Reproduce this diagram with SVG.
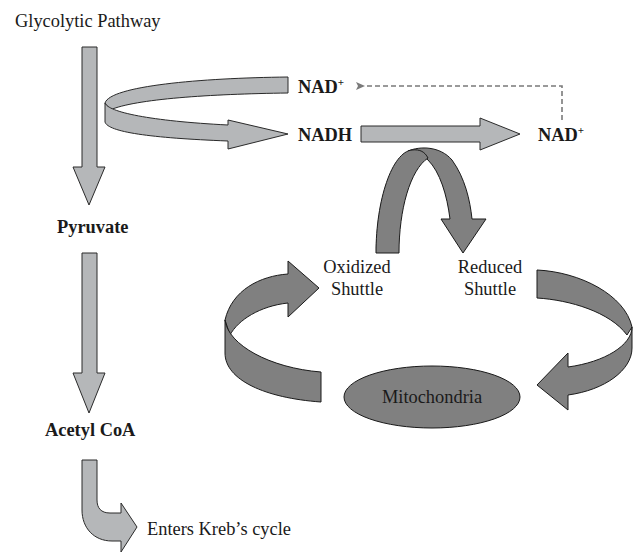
<svg xmlns="http://www.w3.org/2000/svg" width="633" height="553" viewBox="0 0 633 553">
<style>
text{font-family:"Liberation Serif","Times New Roman",serif;font-size:18.4px;fill:#1a1a1a}
.b{font-weight:bold}
.light{fill:#b5b7b9;stroke:#2a2a2a;stroke-width:1;stroke-linejoin:miter}
.dark{fill:#808080;stroke:#1a1a1a;stroke-width:1}
.dash{fill:none;stroke:#7a7a7a;stroke-width:1.6;stroke-dasharray:5,3}
</style>
<defs>
<marker id="ah" markerWidth="10" markerHeight="10" refX="1" refY="5" orient="auto" markerUnits="userSpaceOnUse">
<path d="M1,5 L10,1 L8,5 L10,9 Z" fill="#7a7a7a"/>
</marker>
</defs>
<rect width="633" height="553" fill="#fff"/>
<g id="connectors">
<path class="light" d="M82,47 H97 V167 H105 L89,205 L73,167 H82 Z"/>
<path class="light" d="M82,253 H97 V373 H105 L89,413 L73,373 H82 Z"/>
<path class="light" d="M82,460 H97 V500 C97,508 101,513 110,513 H121 V503 L137,527 L121,552 V541 H112 C94,541 82,528 82,510 Z"/>
<path class="light" d="M288,77 V93 C210,94 135,99 110,110 L105,103 C110,86 200,78 288,77 Z"/>
<path class="light" d="M105,103 C108,112 150,121 228,125 V120 L288,134 L228,149 V141 C150,138 108,132 105,122 Z"/>
<path class="light" d="M361,126 H480 V118 L520,134 L480,150 V142 H361 Z"/>
<path class="dash" d="M562,120 V86 H365" marker-end="url(#ah)"/>
<path class="dark" d="M408,151 C420,146 440,146 452,160 C465,178 470,200 472,219 H486 L463,253 L441,219 H450 C447,195 440,172 428,160 C420,152 412,151 408,151 Z"/>
<path class="dark" d="M376,253 C376,200 392,152 412,150 C420,149 425,152 428,158 C410,170 399,210 399,253 Z"/>
<path class="dark" d="M288,274 V261 L319,288 L288,317 V303 C260,306 238,320 230,335 L225,320 C232,290 260,276 288,274 Z"/>
<path class="dark" d="M225,320 C228,345 270,368 321,372 V402 C265,398 225,380 225,353 Z"/>
<path class="dark" d="M537,270 V298 C570,300 610,312 627,335 L632,327 C625,295 580,272 537,270 Z"/>
<path class="dark" d="M632,327 C632,345 605,362 568,367 V353 L537,385 L568,410 V395 C605,390 632,370 632,348 Z"/>
</g>
<g id="glycolytic"><text x="15" y="27">Glycolytic Pathway</text></g>
<g id="pyruvate"><text class="b" x="57" y="233">Pyruvate</text></g>
<g id="acetylcoa"><text class="b" x="45" y="436">Acetyl CoA</text></g>
<g id="kreb"><text x="147" y="535">Enters Kreb’s cycle</text></g>
<g id="nad-top"><text class="b" x="298" y="93">NAD<tspan font-size="11" dy="-7">+</tspan></text></g>
<g id="nadh"><text class="b" x="298" y="141">NADH</text></g>
<g id="nad-right"><text class="b" x="538" y="141">NAD<tspan font-size="11" dy="-7">+</tspan></text></g>
<g id="oxidized"><text x="357" y="273" text-anchor="middle">Oxidized</text><text x="357" y="295" text-anchor="middle">Shuttle</text></g>
<g id="reduced"><text x="490" y="273" text-anchor="middle">Reduced</text><text x="490" y="295" text-anchor="middle">Shuttle</text></g>
<g id="mitochondria"><ellipse class="dark" cx="432" cy="397" rx="88" ry="31"/><text x="432" y="403" text-anchor="middle">Mitochondria</text></g>
</svg>
